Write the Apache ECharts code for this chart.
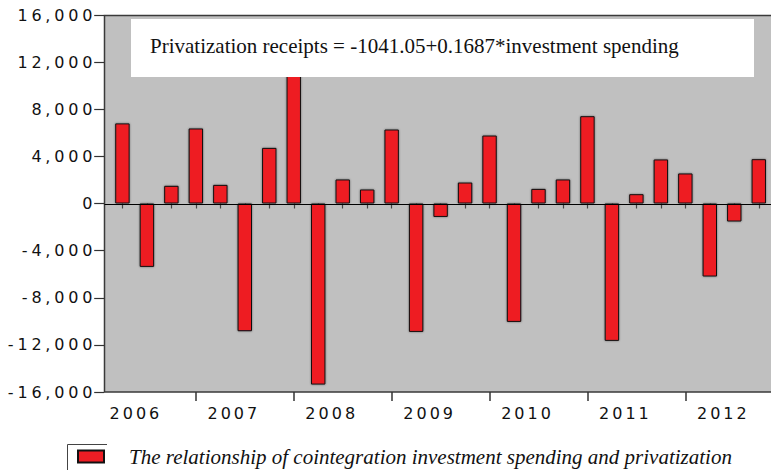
<!DOCTYPE html>
<html>
<head>
<meta charset="utf-8">
<script src="https://cdn.jsdelivr.net/npm/echarts@6/dist/echarts.min.js"></script>
<style>
  html, body { margin: 0; padding: 0; background: #fff; }
  #chart { width: 771px; height: 470px; }
  /* wide-set axis numerals */
  #chart text[style*="DejaVu Sans"] { letter-spacing: 3.8px; }
  #chart text[style*="Verdana"] { letter-spacing: 3px; }
</style>
</head>
<body>
<div id="chart"></div>
<script>
// Quarterly periods 2006Q1 - 2012Q3
const years = ['2006', '2007', '2008', '2009', '2010', '2011', '2012'];
const quarters = ['Q1', 'Q2', 'Q3', 'Q4'];
const periods = [];
years.forEach(y => quarters.forEach(q => periods.push(y + q)));
periods.length = 27;

// Cointegration residuals per quarter
const residuals = [
  6800, -5380, 1500, 6370,
  1580, -10840, 4720, 12500,
  -15370, 2040, 1190, 6280,
  -10900, -1140, 1780, 5770,
  -10050, 1240, 2040, 7410,
  -11660, 790, 3740, 2550,
  -6200, -1530, 3760
];

const yMin = -16000, yMax = 16000, yStep = 4000;
const equation = 'Privatization receipts = -1041.05+0.1687*investment spending';
const seriesName = 'The relationship of cointegration investment spending and privatization';

const chart = echarts.init(document.getElementById('chart'), null, { renderer: 'svg' });

const option = {
  animation: false,
  backgroundColor: '#fff',
  grid: { left: 110.2, right: -4, top: 15, bottom: 78 },
  legend: {
    left: 77, top: 446, padding: 0,
    itemWidth: 26, itemHeight: 12,
    icon: 'rect',
    textStyle: {
      fontFamily: 'Liberation Serif', fontStyle: 'italic', fontSize: 21,
      color: '#111', padding: [0, 0, 0, 20]
    },
    data: [seriesName]
  },
  xAxis: [{
    type: 'category',
    data: periods,
    axisLine: { show: false },
    axisTick: { show: true, alignWithLabel: true, interval: 0, length: 5, lineStyle: { color: '#444', width: 1.2 } },
    axisLabel: {
      interval: (i) => i % 4 === 0,
      formatter: (v) => v.slice(0, 4),
      fontFamily: 'DejaVu Sans, Verdana', fontSize: 16, color: '#111',
      margin: 13, padding: [0, 0, 0, 27]
    },
    splitLine: { show: false }
  }, {
    type: 'category',
    data: periods,
    position: 'bottom',
    axisLine: { show: false },
    axisTick: { show: true, alignWithLabel: true, interval: (i) => i % 4 === 3, length: 9, lineStyle: { color: '#333', width: 1.5 } },
    axisLabel: { show: false },
    splitLine: { show: false }
  }],
  yAxis: {
    type: 'value',
    min: yMin, max: yMax, interval: yStep,
    offset: 6,
    axisLine: { show: false },
    axisTick: { show: true, length: 10, lineStyle: { color: '#333', width: 1.2 } },
    axisLabel: {
      fontFamily: 'DejaVu Sans', fontSize: 16, color: '#111', margin: 8,
      formatter: (v) => v.toLocaleString('en-US')
    },
    splitLine: { show: false }
  },
  series: [{
    name: seriesName,
    type: 'bar',
    xAxisIndex: 0,
    data: residuals,
    barWidth: 14.4,
    itemStyle: {
      color: '#EE1D24', borderColor: '#111', borderWidth: 1,
      shadowColor: 'rgba(0,0,0,0.45)', shadowBlur: 2
    },
    z: 2
  }],
  graphic: [{
    type: 'rect', z: -10, silent: true,
    shape: { x: 104.5, y: 15.5, width: 680, height: 376.5 },
    style: { fill: '#C0C0C0', stroke: '#3a3a3a', lineWidth: 1.5 }
  }, {
    type: 'rect', z: 10, silent: true,
    shape: { x: 131, y: 19, width: 623, height: 58 },
    style: { fill: '#fff' }
  }, {
    type: 'text', z: 11, silent: true,
    x: 150, y: 46,
    style: {
      text: equation, fill: '#111',
      font: '21px "Liberation Serif"', fontFamily: 'Liberation Serif', fontSize: 21,
      verticalAlign: 'middle', align: 'left'
    }
  }, {
    type: 'polyline', z: 10, silent: true,
    shape: { points: [[67.5, 470], [67.5, 444.5], [107, 444.5]] },
    style: { stroke: '#444', lineWidth: 1, fill: null }
  }]
};

chart.setOption(option);

// zero reference line across the full plot background
const y0 = chart.convertToPixel({ yAxisIndex: 0 }, 0);
chart.setOption({
  graphic: option.graphic.concat([{
    type: 'line', z: 5, silent: true,
    shape: { x1: 104.5, y1: Math.round(y0) + 0.5, x2: 771, y2: Math.round(y0) + 0.5 },
    style: { stroke: '#000', lineWidth: 1 }
  }])
});
</script>
</body>
</html>
